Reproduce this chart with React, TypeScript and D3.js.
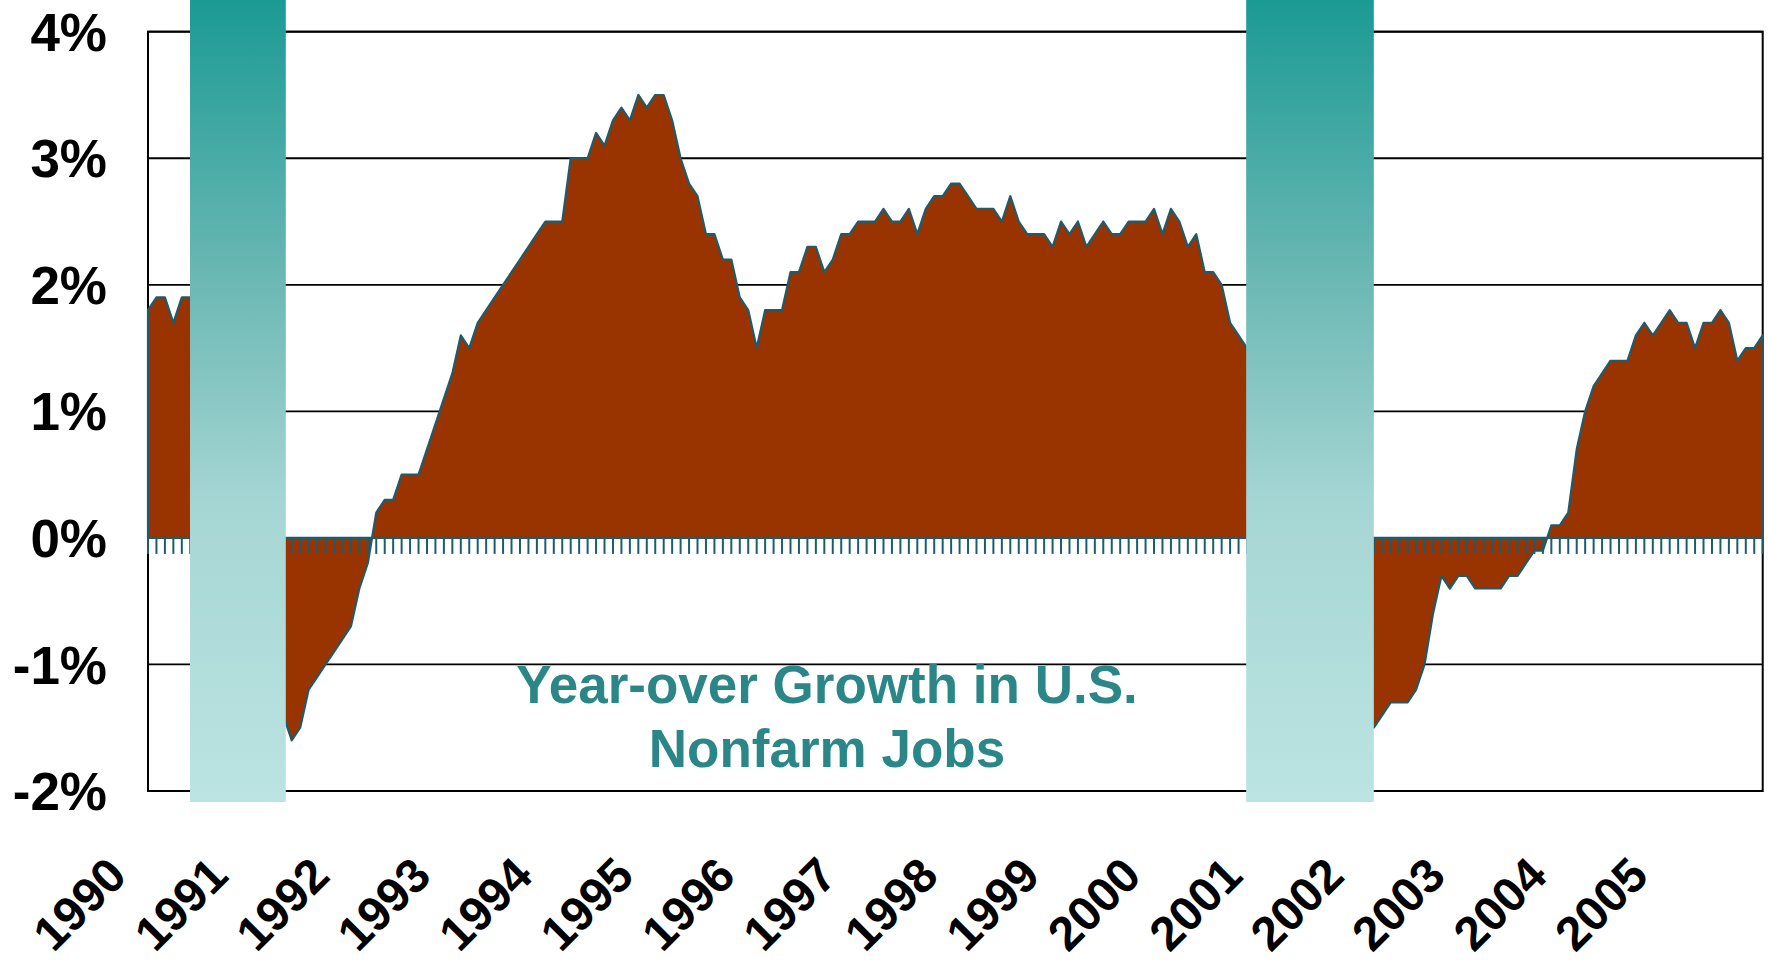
import * as d3 from "d3";
import React, { useEffect, useRef } from "react";

// monthly year-over-year growth, Jan 1990 .. Dec 2005 (%)
const jobGrowth = [
  1.8, 1.9, 1.9, 1.7, 1.9, 1.9, 1.7, 1.5, 1.2, 0.9, 0.5, 0.2,
  -0.2, -0.6, -0.9, -1.2, -1.4, -1.6, -1.5, -1.2, -1.1, -1.0, -0.9, -0.8,
  -0.7, -0.4, -0.2, 0.2, 0.3, 0.3, 0.5, 0.5, 0.5, 0.7, 0.9, 1.1,
  1.3, 1.6, 1.5, 1.7, 1.8, 1.9, 2.0, 2.1, 2.2, 2.3, 2.4, 2.5,
  2.5, 2.5, 3.0, 3.0, 3.0, 3.2, 3.1, 3.3, 3.4, 3.3, 3.5, 3.4,
  3.5, 3.5, 3.3, 3.0, 2.8, 2.7, 2.4, 2.4, 2.2, 2.2, 1.9, 1.8,
  1.5, 1.8, 1.8, 1.8, 2.1, 2.1, 2.3, 2.3, 2.1, 2.2, 2.4, 2.4,
  2.5, 2.5, 2.5, 2.6, 2.5, 2.5, 2.6, 2.4, 2.6, 2.7, 2.7, 2.8,
  2.8, 2.7, 2.6, 2.6, 2.6, 2.5, 2.7, 2.5, 2.4, 2.4, 2.4, 2.3,
  2.5, 2.4, 2.5, 2.3, 2.4, 2.5, 2.4, 2.4, 2.5, 2.5, 2.5, 2.6,
  2.4, 2.6, 2.5, 2.3, 2.4, 2.1, 2.1, 2.0, 1.7, 1.6, 1.5, 1.3,
  1.0, 0.7, 0.4, 0.1, -0.2, -0.4, -0.6, -0.8, -1.0, -1.1, -1.3, -1.4,
  -1.5, -1.5, -1.4, -1.3, -1.3, -1.3, -1.2, -1.0, -0.6, -0.3, -0.4, -0.3,
  -0.3, -0.4, -0.4, -0.4, -0.4, -0.3, -0.3, -0.2, -0.1, -0.1, 0.1, 0.1,
  0.2, 0.7, 1.0, 1.2, 1.3, 1.4, 1.4, 1.4, 1.6, 1.7, 1.6, 1.7,
  1.8, 1.7, 1.7, 1.5, 1.7, 1.7, 1.8, 1.7, 1.4, 1.5, 1.5, 1.6,
];

const years = [
  "1990", "1991", "1992", "1993", "1994", "1995", "1996", "1997",
  "1998", "1999", "2000", "2001", "2002", "2003", "2004", "2005",
];

const yTicks = [4, 3, 2, 1, 0, -1, -2];

// recession shading, in month index units
const recessionStart = [4.97, 129.9];
const recessionEnd = [16.3, 145.0];

const titleLines = ["Year-over Growth in U.S.", "Nonfarm Jobs"];

const FONT = "'Liberation Sans', Arial, Helvetica, sans-serif";

const Chart: React.FC = () => {
  const svgRef = useRef<SVGSVGElement>(null);

  useEffect(() => {
    if (!svgRef.current) return;
    const svg = d3.select(svgRef.current);
    svg.selectAll("*").remove();

    const width = 1768;
    const height = 962;
    const margin = { top: 31.7, right: 5.3, bottom: 171, left: 148 };
    const innerW = width - margin.left - margin.right;

    const x = d3
      .scaleLinear()
      .domain([0, jobGrowth.length - 1])
      .range([margin.left, margin.left + innerW]);
    const y = d3
      .scaleLinear()
      .domain([-2, 4])
      .range([height - margin.bottom, margin.top]);

    // gradient for recession bars
    const defs = svg.append("defs");
    const grad = defs
      .append("linearGradient")
      .attr("id", "recessionGrad")
      .attr("gradientUnits", "userSpaceOnUse")
      .attr("x1", 0)
      .attr("y1", 0)
      .attr("x2", 0)
      .attr("y2", y(-2) + 11);
    grad.append("stop").attr("offset", "0%").attr("stop-color", "#1b9a94");
    grad.append("stop").attr("offset", "35%").attr("stop-color", "#6cb8b4");
    grad.append("stop").attr("offset", "63%").attr("stop-color", "#a6d6d4");
    grad.append("stop").attr("offset", "100%").attr("stop-color", "#bbe4e2");

    // gridlines
    svg
      .append("g")
      .selectAll("line")
      .data(yTicks)
      .enter()
      .append("line")
      .attr("x1", margin.left)
      .attr("x2", margin.left + innerW)
      .attr("y1", (d) => y(d))
      .attr("y2", (d) => y(d))
      .attr("stroke", "#000")
      .attr("stroke-width", 1.8);

    // plot frame
    svg
      .append("rect")
      .attr("x", margin.left)
      .attr("y", y(4))
      .attr("width", innerW)
      .attr("height", y(-2) - y(4))
      .attr("fill", "none")
      .attr("stroke", "#000")
      .attr("stroke-width", 2);

    // area
    const area = d3
      .area<number>()
      .x((_, i) => x(i))
      .y0(y(0))
      .y1((d) => y(d));

    svg
      .append("path")
      .datum(jobGrowth)
      .attr("d", area)
      .attr("fill", "#993300")
      .attr("stroke", "#1f5b6b")
      .attr("stroke-width", 2.2)
      .attr("stroke-linejoin", "round");

    // zero axis with monthly ticks
    svg
      .append("line")
      .attr("x1", x(0))
      .attr("x2", x(jobGrowth.length - 1))
      .attr("y1", y(0))
      .attr("y2", y(0))
      .attr("stroke", "#1f5b6b")
      .attr("stroke-width", 2);

    svg
      .append("g")
      .selectAll("line")
      .data(d3.range(jobGrowth.length))
      .enter()
      .append("line")
      .attr("x1", (d) => x(d))
      .attr("x2", (d) => x(d))
      .attr("y1", y(0))
      .attr("y2", y(0) + 16)
      .attr("stroke", "#1f5b6b")
      .attr("stroke-width", 2);

    // recession bars
    svg
      .append("g")
      .selectAll("rect")
      .data(recessionStart)
      .enter()
      .append("rect")
      .attr("x", (d) => x(d))
      .attr("y", 0)
      .attr("width", (d, i) => x(recessionEnd[i]) - x(d))
      .attr("height", y(-2) + 11)
      .attr("fill", "url(#recessionGrad)");

    // y labels
    svg
      .append("g")
      .selectAll("text")
      .data(yTicks)
      .enter()
      .append("text")
      .attr("x", 107)
      .attr("y", (d) => y(d))
      .attr("dy", "0.36em")
      .attr("text-anchor", "end")
      .attr("font-family", FONT)
      .attr("font-weight", "bold")
      .attr("font-size", 53)
      .attr("fill", "#000")
      .text((d) => `${d}%`);

    // x labels (one per year)
    svg
      .append("g")
      .selectAll("text")
      .data(years)
      .enter()
      .append("text")
      .attr(
        "transform",
        (_, i) => `translate(${x(i * 12) - 19},${878}) rotate(-45)`
      )
      .attr("text-anchor", "end")
      .attr("font-family", FONT)
      .attr("font-weight", "bold")
      .attr("font-size", 48)
      .attr("fill", "#000")
      .text((d) => d);

    // title inside the plot
    svg
      .append("g")
      .selectAll("text")
      .data(titleLines)
      .enter()
      .append("text")
      .attr("x", 827)
      .attr("y", (_, i) => 703 + i * 64)
      .attr("text-anchor", "middle")
      .attr("font-family", FONT)
      .attr("font-weight", "bold")
      .attr("font-size", 53)
      .attr("fill", "#2b8787")
      .text((d) => d);
  }, []);

  return (
    <svg
      ref={svgRef}
      width={1768}
      height={962}
      style={{ position: "absolute", left: 0, top: 0, background: "#fff" }}
    ></svg>
  );
};

export default function App() {
  return <Chart />;
}
